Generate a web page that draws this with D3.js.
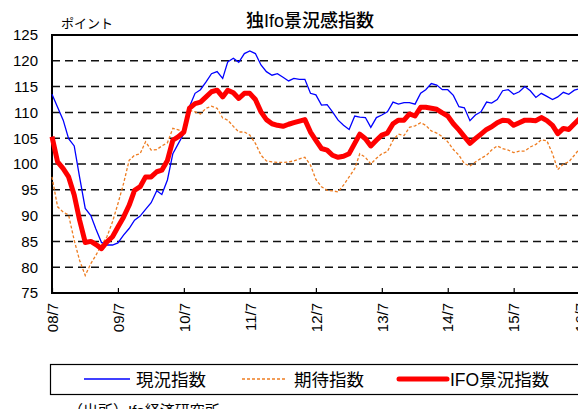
<!DOCTYPE html>
<html>
<head>
<meta charset="utf-8">
<script src="https://cdn.jsdelivr.net/npm/d3@7"></script>
<style>
  body { margin: 0; background: #fff; }
  text { font-family: "Liberation Sans", "Noto Sans CJK JP", sans-serif; fill: #000; }
</style>
</head>
<body>
<svg id="chart" width="578" height="409"></svg>
<script>
// monthly values from 2008/7 to 2016/7
var startMonth = new Date(2008, 6, 1);
var genjo = [113.5,111.0,108.5,104.9,103.5,97.4,91.4,90.0,87.4,84.8,84.3,84.3,84.7,86.2,87.5,89.1,
  89.9,91.2,92.5,94.8,94.1,96.9,102.0,104.0,105.9,111.1,113.7,114.4,115.9,117.5,117.9,116.6,
  119.8,120.5,119.7,121.4,121.9,121.4,119.2,117.9,117.2,117.5,116.8,116.1,116.6,116.4,116.4,113.7,
  113.4,111.4,111.5,110.1,108.5,107.5,106.7,109.3,109.1,109.0,107.1,109.0,109.5,110.1,112.0,111.6,
  111.9,111.9,111.6,113.7,114.4,115.6,115.3,114.4,114.4,113.3,111.1,110.9,108.4,109.5,110.1,112.0,
  111.8,112.5,114.2,114.4,113.5,114.0,115.0,114.2,112.9,113.7,113.1,112.5,113.0,113.9,113.5,114.3,114.6];
var kitai = [97.5,91.7,90.7,90.1,85.2,81.3,78.4,80.7,82.3,84.3,85.9,88.8,92.3,96.2,100.7,101.7,
  102.0,104.3,102.7,102.8,103.5,104.1,106.9,106.6,106.2,110.4,110.1,109.7,110.8,111.2,110.8,108.9,
  108.5,107.3,106.2,106.2,105.6,104.0,101.7,100.6,100.4,100.3,100.3,100.4,100.6,101.0,101.3,99.8,
  97.0,95.6,94.9,94.8,94.6,95.9,97.5,99.1,102.0,101.3,100.0,101.1,102.0,102.4,104.6,105.8,
  105.5,107.1,107.4,108.0,107.5,106.4,106.0,105.3,104.3,102.8,101.7,100.1,99.6,100.4,101.1,101.7,
  102.7,103.5,103.0,102.7,102.2,102.5,102.5,103.3,103.8,104.7,104.5,102.0,98.9,100.0,100.4,101.7,103.0];
var ifo = [105.3,100.4,99.1,97.5,94.0,89.1,84.8,85.0,84.4,83.6,84.9,85.9,87.8,89.7,92.0,94.9,
  95.6,97.5,97.5,98.5,98.8,100.7,104.6,105.3,106.2,110.8,111.7,112.0,113.0,114.0,114.3,113.0,
  114.3,113.8,112.7,113.7,113.7,112.5,110.1,108.6,107.8,107.5,107.3,107.7,108.0,108.3,108.6,106.2,
  104.6,103.0,102.7,101.7,101.3,101.5,102.0,104.0,105.8,104.9,103.5,104.6,105.6,106.0,107.8,108.5,
  108.5,109.7,109.3,111.0,111.0,110.8,110.6,109.9,109.3,107.8,106.6,105.3,104.0,104.9,105.8,106.7,
  107.2,108.0,108.5,108.4,107.5,108.0,108.5,108.5,108.4,109.0,108.4,107.5,105.9,106.9,106.7,107.8,108.8];
var yTicks = [75,80,85,90,95,100,105,110,115,120,125];
var xTickLabels = ["08/7","09/7","10/7","11/7","12/7","13/7","14/7","15/7","16/7"];
var seriesNames = ["現況指数", "期待指数", "IFO景況指数"];

var svg = d3.select("#chart");
var plotLeft = 52, plotTop = 35, plotBottom = 293, plotRight = 602;

var x = d3.scaleTime()
  .domain([startMonth, d3.timeMonth.offset(startMonth, 100)])
  .range([plotLeft, plotRight]);
var y = d3.scaleLinear().domain([75, 125]).range([plotBottom, plotTop]);

function monthOf(i) { return d3.timeMonth.offset(startMonth, i); }

// dashed grid
svg.append("g").selectAll("line").data(yTicks.filter(function(d) { return d > 75 && d < 125; }))
  .enter().append("line")
  .attr("x1", plotLeft).attr("x2", 578)
  .attr("y1", function(d) { return y(d); }).attr("y2", function(d) { return y(d); })
  .style("stroke", "#111").style("stroke-width", 1.5).style("stroke-dasharray", "8,5");

// top border
svg.append("line").attr("x1", plotLeft).attr("x2", 578).attr("y1", y(125)).attr("y2", y(125))
  .style("stroke", "#000").style("stroke-width", 2);

// y axis
var yAxis = d3.axisLeft(y).tickValues(yTicks).tickSize(0).tickPadding(14);
var yg = svg.append("g").attr("transform", "translate(" + plotLeft + ",0)").call(yAxis);
yg.select(".domain").remove();
yg.selectAll("text").style("font-size", "15px").attr("font-family", null);

// x axis
var xDates = xTickLabels.map(function(d, i) { return monthOf(i * 12); });
var xAxis = d3.axisBottom(x).tickValues(xDates).tickSizeInner(-5).tickSizeOuter(0)
  .tickFormat(function(d, i) { return xTickLabels[i]; });
var xg = svg.append("g").attr("transform", "translate(0," + plotBottom + ")").call(xAxis);
xg.select(".domain").remove();
xg.selectAll(".tick line").style("stroke", "#000").style("stroke-width", 1.2);
xg.selectAll("text")
  .attr("font-family", null)
  .style("font-size", "15px")
  .attr("text-anchor", "end")
  .attr("y", 0).attr("dy", "0.35em")
  .attr("transform", "translate(0,10) rotate(-90)");

svg.append("line").attr("x1", plotLeft).attr("x2", 578).attr("y1", plotBottom).attr("y2", plotBottom)
  .style("stroke", "#000").style("stroke-width", 2);
svg.append("line").attr("x1", plotLeft).attr("x2", plotLeft).attr("y1", plotTop - 1).attr("y2", plotBottom + 1)
  .style("stroke", "#000").style("stroke-width", 2);

// lines
var line = d3.line()
  .x(function(d, i) { return x(monthOf(i)); })
  .y(function(d) { return y(d); });

svg.append("path").datum(kitai).attr("d", line)
  .style("fill", "none").style("stroke", "#EE7D22").style("stroke-width", 1.3)
  .style("stroke-dasharray", "3,2");
svg.append("path").datum(genjo).attr("d", line)
  .style("fill", "none").style("stroke", "#0000FF").style("stroke-width", 1.3);
svg.append("path").datum(ifo).attr("d", line)
  .style("fill", "none").style("stroke", "#FF0000").style("stroke-width", 5)
  .style("stroke-linejoin", "round");

// titles
svg.append("text").attr("x", 310).attr("y", 27).attr("text-anchor", "middle")
  .style("font-size", "18px").style("font-weight", "500").text("独Ifo景況感指数");
svg.append("text").attr("x", 61).attr("y", 28)
  .style("font-size", "13px").text("ポイント");

// legend
svg.append("rect").attr("x", 50.5).attr("y", 364.5).attr("width", 540).attr("height", 30)
  .style("fill", "#fff").style("stroke", "#000").style("stroke-width", 1.2);
var legendItems = [
  {x1: 84, x2: 130, tx: 136, color: "#0000FF", w: 1.3, dash: null},
  {x1: 242, x2: 287, tx: 294, color: "#EE7D22", w: 1.3, dash: "3,2"},
  {x1: 399, x2: 447, tx: 450, color: "#FF0000", w: 5, dash: null}
];
var lg = svg.append("g").selectAll("g").data(legendItems).enter().append("g");
lg.append("line")
  .attr("x1", function(d) { return d.x1; }).attr("x2", function(d) { return d.x2; })
  .attr("y1", 379).attr("y2", 379)
  .style("stroke", function(d) { return d.color; })
  .style("stroke-width", function(d) { return d.w; })
  .style("stroke-dasharray", function(d) { return d.dash; })
  .style("stroke-linecap", function(d, i) { return i == 2 ? "round" : "butt"; });
lg.append("text")
  .attr("x", function(d) { return d.tx; }).attr("y", 385.5)
  .style("font-size", "17.5px")
  .text(function(d, i) { return seriesNames[i]; });

svg.append("text").attr("x", 68).attr("y", 416)
  .style("font-size", "15px").text("（出所）Ifo経済研究所");
</script>
</body>
</html>
